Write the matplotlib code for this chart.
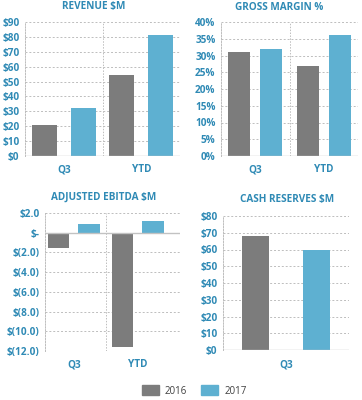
import matplotlib
matplotlib.use("Agg")
import matplotlib.pyplot as plt
from matplotlib.patches import Patch

# ---- data ----
years = ["2016", "2017"]
cats2 = ["Q3", "YTD"]
revenue_2016 = [21, 54.5]
revenue_2017 = [32, 81]
margin_2016 = [31, 27]
margin_2017 = [32, 36]
ebitda_2016 = [-1.5, -11.6]
ebitda_2017 = [0.85, 1.15]
cash_cats = ["Q3"]
cash_2016 = [68]
cash_2017 = [60]

rev_ticks = list(range(0, 100, 10))
rev_labels = [f"${v}" for v in rev_ticks]
gm_ticks = list(range(0, 45, 5))
gm_labels = [f"{v}%" for v in gm_ticks]
eb_ticks = [2, 0, -2, -4, -6, -8, -10, -12]
eb_labels = ["$2.0", "$-", "$(2.0)", "$(4.0)", "$(6.0)", "$(8.0)", "$(10.0)", "$(12.0)"]
cash_ticks = list(range(0, 90, 10))
cash_labels = [f"${v}" for v in cash_ticks]

GRAY = "#7c7c7c"
BLUE = "#5eb0d1"
TXT = "#2f8ab5"
GRID = "#bdbdbd"
FONT = "Open Sans"

W, H = 362, 400
fig = plt.figure(figsize=(W / 100, H / 100), dpi=100)


def make_ax(l, r, t, b):
    return fig.add_axes([l / W, 1 - b / H, (r - l) / W, (b - t) / H])


def style(ax, ticks, labels, ymin, ymax, zero=None, divider=None):
    ax.set_ylim(ymin, ymax)
    ax.set_yticks(ticks)
    ax.set_yticklabels(labels)
    for s in ["top", "right", "bottom"]:
        ax.spines[s].set_visible(False)
    ax.spines["left"].set_color(GRID)
    ax.spines["left"].set_linestyle((0, (1.5, 1.5)))
    ax.spines["left"].set_linewidth(0.7)
    for t in ticks:
        if zero is not None and t == zero:
            continue
        ax.axhline(t, color=GRID, lw=0.7, ls=(0, (2, 2)), zorder=0)
    if zero is not None:
        ax.axhline(zero, color="#c2c2c2", lw=1.0, zorder=3)
    if divider is not None:
        ax.axvline(divider, color=GRID, lw=0.7, ls=(0, (1.5, 1.5)), zorder=0)
    ax.tick_params(axis="both", length=0, colors=TXT, labelsize=7.2, pad=4)
    for lab in ax.get_yticklabels() + ax.get_xticklabels():
        lab.set_fontweight("bold")
        lab.set_fontfamily(FONT)
        lab.set_color(TXT)


off, bw = 0.25, 0.32

# Revenue
ax1 = make_ax(25, 180, 22, 156)
x = [0, 1]
ax1.bar([i - off for i in x], revenue_2016, bw, color=GRAY, zorder=2)
ax1.bar([i + off for i in x], revenue_2017, bw, color=BLUE, zorder=2)
ax1.set_xlim(-0.5, 1.5)
ax1.set_xticks(x)
ax1.set_xticklabels(cats2)
style(ax1, rev_ticks, rev_labels, 0, 90, zero=0, divider=0.5)
ax1.tick_params(axis="x", pad=6)

# Gross margin
ax2 = make_ax(221, 358, 22, 156)
ax2.bar([i - 0.235 for i in x], margin_2016, 0.32, color=GRAY, zorder=2)
ax2.bar([i + 0.235 for i in x], margin_2017, 0.32, color=BLUE, zorder=2)
ax2.set_xlim(-0.5, 1.5)
ax2.set_xticks(x)
ax2.set_xticklabels(cats2)
style(ax2, gm_ticks, gm_labels, 0, 40, zero=0, divider=0.5)
ax2.tick_params(axis="x", pad=6)

# EBITDA
ax3 = make_ax(45, 180, 213, 351)
ax3.bar([i - 0.24 for i in x], ebitda_2016, 0.34, color=GRAY, zorder=2)
ax3.bar([i + 0.24 for i in x], ebitda_2017, 0.34, color=BLUE, zorder=2)
ax3.set_xlim(-0.45, 1.66)
ax3.set_xticks(x)
ax3.set_xticklabels(cats2)
style(ax3, eb_ticks, eb_labels, -12, 2, zero=0, divider=0.5)
ax3.tick_params(axis="x", pad=6)

# Cash
ax4 = make_ax(223, 349, 216, 350)
ax4.bar([-0.245], cash_2016, 0.215, color=GRAY, zorder=2)
ax4.bar([0.245], cash_2017, 0.215, color=BLUE, zorder=2)
ax4.set_xlim(-0.5, 0.5)
ax4.set_xticks([0])
ax4.set_xticklabels(cash_cats)
style(ax4, cash_ticks, cash_labels, 0, 80, zero=0)
ax4.tick_params(axis="x", pad=7)

# Titles
for tx, ty, s in [(94, 7, "REVENUE $M"), (279, 7, "GROSS MARGIN %"),
                  (104, 197, "ADJUSTED EBITDA $M"), (287, 199, "CASH RESERVES $M")]:
    fig.text(tx / W, 1 - ty / H, s, ha="center", va="center", color=TXT,
             fontsize=7.2, fontweight="bold", family=FONT)

handles = [Patch(color=GRAY, label=years[0]), Patch(color=BLUE, label=years[1])]
leg = fig.legend(handles=handles, loc="center", bbox_to_anchor=(194 / W, 1 - 391 / H),
                 ncol=2, frameon=False, fontsize=7, handlelength=1.8, handleheight=1.2,
                 columnspacing=1.4, handletextpad=0.6)
for t in leg.get_texts():
    t.set_color("#404040")
    t.set_family(FONT)

fig.savefig("out.png", dpi=100)
